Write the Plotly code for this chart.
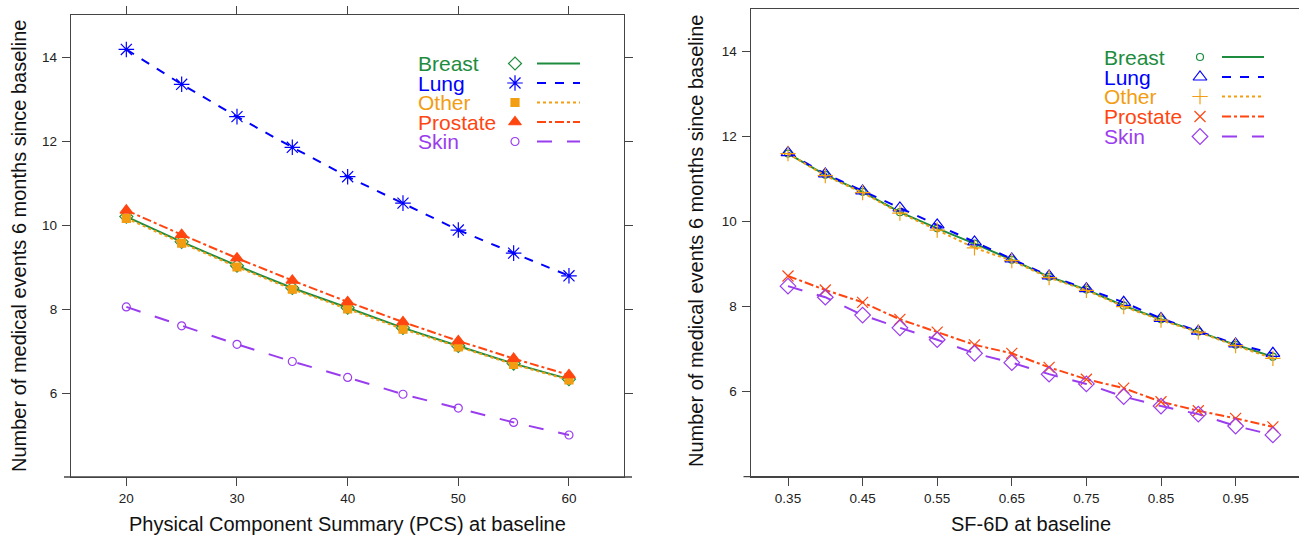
import plotly.graph_objects as go

# ---------------- data ----------------
cancer_types = ["Breast", "Lung", "Other", "Prostate", "Skin"]

pcs_x = [20, 25, 30, 35, 40, 45, 50, 55, 60]
pcs_breast = [10.20, 9.60, 9.03, 8.50, 8.03, 7.55, 7.12, 6.70, 6.33]
pcs_lung = [14.18, 13.35, 12.58, 11.85, 11.15, 10.52, 9.88, 9.33, 8.79]
pcs_other = [10.16, 9.57, 9.00, 8.47, 8.00, 7.52, 7.10, 6.68, 6.31]
pcs_prostate = [10.35, 9.77, 9.21, 8.68, 8.17, 7.69, 7.24, 6.82, 6.43]
pcs_skin = [8.05, 7.60, 7.16, 6.75, 6.37, 5.97, 5.64, 5.30, 5.00]

sf_x = [0.35, 0.40, 0.45, 0.50, 0.55, 0.60, 0.65, 0.70, 0.75, 0.80, 0.85, 0.90, 0.95, 1.00]
sf_breast = [11.60, 11.10, 10.70, 10.22, 9.84, 9.48, 9.10, 8.70, 8.40, 8.02, 7.70, 7.41, 7.10, 6.82]
sf_lung = [11.62, 11.12, 10.72, 10.32, 9.92, 9.52, 9.12, 8.72, 8.42, 8.10, 7.72, 7.42, 7.12, 6.90]
sf_other = [11.60, 11.08, 10.68, 10.20, 9.80, 9.38, 9.08, 8.68, 8.38, 8.00, 7.68, 7.40, 7.08, 6.78]
sf_prostate = [8.72, 8.39, 8.10, 7.70, 7.40, 7.10, 6.90, 6.57, 6.29, 6.08, 5.76, 5.55, 5.37, 5.17]
sf_skin = [8.48, 8.22, 7.80, 7.50, 7.22, 6.90, 6.68, 6.41, 6.18, 5.88, 5.66, 5.47, 5.19, 4.98]

pcs_ticks = [20, 30, 40, 50, 60]
sf_ticks = [0.35, 0.45, 0.55, 0.65, 0.75, 0.85, 0.95]
sf_ticklabels = ["0.35", "0.45", "0.55", "0.65", "0.75", "0.85", "0.95"]
y_ticks = [6, 8, 10, 12, 14]

x_title_left = "Physical Component Summary (PCS) at baseline"
x_title_right = "SF-6D at baseline"
y_title = "Number of medical events 6 months since baseline"

# ---------------- style ----------------
W, H = 1299, 536
FONT = "Liberation Sans, Arial, sans-serif"
AX = "#444444"
colors = {"Breast": "#1E8C3E", "Lung": "#0000FF", "Other": "#F29D12",
          "Prostate": "#FF4510", "Skin": "#9A3DEE"}
dashes = {"Breast": "solid", "Lung": "dash", "Other": "dot",
          "Prostate": "dashdot", "Skin": "longdash"}
sym_left = {"Breast": ("diamond-open", 10), "Lung": ("asterisk-open", 13),
            "Other": ("square", 8), "Prostate": ("triangle-up", 11),
            "Skin": ("circle-open", 8)}
sym_right = {"Breast": ("circle-open", 7), "Lung": ("triangle-up-open", 12),
             "Other": ("cross-thin-open", 11), "Prostate": ("x-thin-open", 11),
             "Skin": ("diamond-open", 12)}

left_vals = dict(zip(cancer_types, [pcs_breast, pcs_lung, pcs_other, pcs_prostate, pcs_skin]))
right_vals = dict(zip(cancer_types, [sf_breast, sf_lung, sf_other, sf_prostate, sf_skin]))

fig = go.Figure()

def add_series(xs, ys, name, sym, xa, ya):
    s, sz = sym
    fig.add_trace(go.Scatter(
        x=xs, y=ys, mode="lines+markers", name=name, showlegend=False,
        xaxis=xa, yaxis=ya, cliponaxis=False,
        line=dict(color=colors[name], width=2, dash=dashes[name]),
        marker=dict(symbol=s, size=sz, color=colors[name],
                    line=dict(width=1.2, color=colors[name]))))

for n in cancer_types:
    add_series(pcs_x, left_vals[n], n, sym_left[n], "x", "y")
for n in cancer_types:
    add_series(sf_x, right_vals[n], n, sym_right[n], "x2", "y2")

# ---------------- legend glyphs on a pixel overlay axis ----------------
def legend(text_x, sym_x, line_x0, line_x1, rows, syms):
    for n, ry in zip(cancer_types, rows):
        s, sz = syms[n]
        fig.add_trace(go.Scatter(
            x=[line_x0, line_x1], y=[ry, ry], mode="lines", showlegend=False,
            xaxis="x3", yaxis="y3", hoverinfo="skip",
            line=dict(color=colors[n], width=2, dash=dashes[n])))
        fig.add_trace(go.Scatter(
            x=[sym_x], y=[ry], mode="markers", showlegend=False,
            xaxis="x3", yaxis="y3", hoverinfo="skip",
            marker=dict(symbol=s, size=sz, color=colors[n],
                        line=dict(width=1.2, color=colors[n]))))
        fig.add_annotation(x=text_x, y=ry, xref="x3", yref="y3", text=n,
                           showarrow=False, xanchor="left", yanchor="middle",
                           font=dict(family=FONT, size=21, color=colors[n]))

legend(416, 515, 537, 580, [63.5, 83.0, 102.5, 122.0, 141.5], sym_left)
legend(1102, 1200, 1222, 1264, [57.0, 77.0, 96.5, 116.5, 136.5], sym_right)

# ---------------- axes ----------------
def px(v):
    return v / W

def py(v):
    return 1 - v / H

tickfont = dict(family=FONT, size=13.5, color="#222222")
common = dict(showgrid=False, zeroline=False, showline=True, linecolor=AX,
              linewidth=1.3, ticks="outside", ticklen=8, tickwidth=1,
              tickcolor=AX, tickfont=tickfont, automargin=False)

right_x_max = 0.30 + (W - 750.7) / 746.0

fig.update_layout(
    width=W, height=H, margin=dict(l=0, r=0, t=0, b=0),
    paper_bgcolor="white", plot_bgcolor="rgba(0,0,0,0)",
    template="none", font=dict(family=FONT),
    xaxis=dict(domain=[px(71), px(624.3)], range=[15, 65], anchor="y",
               tickvals=pcs_ticks, mirror="ticks", ticklabelstandoff=1, **common),
    yaxis=dict(domain=[py(477), py(15)], range=[4, 15], anchor="x",
               tickvals=y_ticks, mirror="ticks", ticklabelstandoff=2, **common),
    xaxis2=dict(domain=[px(750.7), 1.0], range=[0.30, right_x_max], anchor="y2",
                tickvals=sf_ticks, ticktext=sf_ticklabels, mirror=True,
                ticklabelstandoff=1, **common),
    yaxis2=dict(domain=[py(476.6), py(9)], range=[4, 15], anchor="x2",
                tickvals=y_ticks, mirror=False, ticklabelstandoff=2, **common),
    xaxis3=dict(domain=[0, 1], range=[0, W], anchor="y3", visible=False,
                fixedrange=True),
    yaxis3=dict(domain=[0, 1], range=[H, 0], anchor="x3", visible=False,
                fixedrange=True),
)

# axis titles
title_font = dict(family=FONT, size=20, color="#111111")
fig.add_annotation(x=347.6, y=524, xref="x3", yref="y3", text=x_title_left,
                   showarrow=False, font=title_font)
fig.add_annotation(x=1030.5, y=524, xref="x3", yref="y3", text=x_title_right,
                   showarrow=False, font=title_font)
fig.add_annotation(x=19, y=246, xref="x3", yref="y3", text=y_title,
                   showarrow=False, textangle=-90, font=title_font)
fig.add_annotation(x=696, y=241, xref="x3", yref="y3", text=y_title,
                   showarrow=False, textangle=-90, font=title_font)

# bottom axis lines overshoot the frame slightly
fig.add_shape(type="line", xref="x3", yref="y3", x0=64, x1=632, y0=477, y1=477,
              line=dict(color=AX, width=1.3))
fig.add_shape(type="line", xref="x3", yref="y3", x0=743.5, x1=W, y0=476.6, y1=476.6,
              line=dict(color=AX, width=1.3))

fig.write_html("out.html",
               config={"displayModeBar": False},
               post_script="document.body.style.margin='0px';"
                           "document.body.style.overflow='hidden';")
